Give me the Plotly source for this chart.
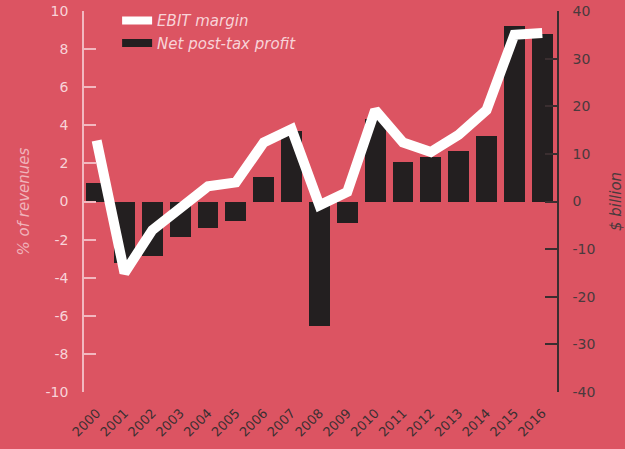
import plotly.graph_objects as go

years = list(range(2000, 2017))
year_labels = [str(y) for y in years]
net_profit_bn = [3.9, -13.0, -11.4, -7.5, -5.6, -4.1, 5.1, 14.7, -26.1, -4.5,
                 17.3, 8.4, 9.3, 10.7, 13.7, 36.9, 35.2]
ebit_margin_pct = [3.2, -3.75, -1.5, -0.4, 0.8, 1.0, 3.1, 3.8, -0.2, 0.5,
                   4.8, 3.1, 2.6, 3.5, 4.8, 8.75, 8.85]
left_ticks = [-10, -8, -6, -4, -2, 0, 2, 4, 6, 8, 10]
left_tick_labels = ["-10", "-8", "-6", "-4", "-2", "0", "2", "4", "6", "8", "10"]
right_ticks = [-40, -30, -20, -10, 0, 10, 20, 30, 40]
right_tick_labels = ["-40", "-30", "-20", "-10", "0", "10", "20", "30", "40"]

BG = "#dc5462"
DARK = "#231f20"
LIGHT = "#f8d3d8"
FONT = "DejaVu Sans"

fig = go.Figure()

# bars on primary axis (drawn on the right side, $ billion)
fig.add_trace(go.Bar(
    x=years, y=net_profit_bn, marker=dict(color=DARK, line=dict(width=0)),
    width=0.75, yaxis="y", showlegend=False, name="Net post-tax profit"))

# line on the overlaying axis (left side, % of revenues)
fig.add_trace(go.Scatter(
    x=years, y=ebit_margin_pct, mode="lines", yaxis="y2",
    line=dict(color="white", width=10), showlegend=False, name="EBIT margin"))

# legend entries
fig.add_trace(go.Scatter(x=[None], y=[None], mode="lines", yaxis="y2",
                         line=dict(color="white", width=8), name="<i>EBIT margin</i>"))
fig.add_trace(go.Scatter(x=[None], y=[None], mode="lines", yaxis="y2",
                         line=dict(color=DARK, width=8), name="<i>Net post-tax profit</i>"))

fig.update_layout(
    width=625, height=449,
    margin=dict(l=84, r=68, t=11, b=57, autoexpand=False),
    paper_bgcolor=BG, plot_bgcolor=BG,
    font=dict(family=FONT, size=13),
    bargap=0,
    xaxis=dict(
        range=[1999.546, 2016.53], tickvals=years, ticktext=year_labels,
        tickangle=-45, showgrid=False, zeroline=False, showline=False,
        ticks="", automargin=False, ticklabelstandoff=10,
        tickfont=dict(color="#3a2f31", size=13)),
    yaxis=dict(
        side="right", range=[-40, 40], tickvals=right_ticks, ticktext=right_tick_labels,
        showgrid=False, zeroline=False, showline=True, linecolor="#3a2e30",
        linewidth=1.5, ticks="inside", ticklen=12, tickwidth=1.5,
        tickcolor="#3a2e30", tickfont=dict(color="#4a3a3d", size=14),
        ticklabelstandoff=11, automargin=False,
        title=dict(text="<i>$ billion</i>", font=dict(color="#4a3a3d", size=15),
                   standoff=16)),
    yaxis2=dict(
        side="left", overlaying="y", range=[-10, 10], tickvals=left_ticks,
        ticktext=left_tick_labels,
        showgrid=False, zeroline=False, showline=True, linecolor="#f2b8c0",
        linewidth=1.5, ticks="inside", ticklen=12, tickwidth=1.5,
        tickcolor="#f2b8c0", tickfont=dict(color=LIGHT, size=14),
        ticklabelstandoff=11, automargin=False,
        title=dict(text="<i>% of revenues</i>", font=dict(color="#f0b3bb", size=15),
                   standoff=12)),
    legend=dict(x=0.07, y=0.9906, xref="paper", yref="container",
                xanchor="left", yanchor="top",
                bgcolor="rgba(0,0,0,0)", font=dict(color=LIGHT, size=15),
                itemwidth=30, tracegroupgap=0),
)

fig.write_html("out.html", config={"displayModeBar": False},
               post_script="document.body.style.margin='0';document.body.style.overflow='hidden';")
